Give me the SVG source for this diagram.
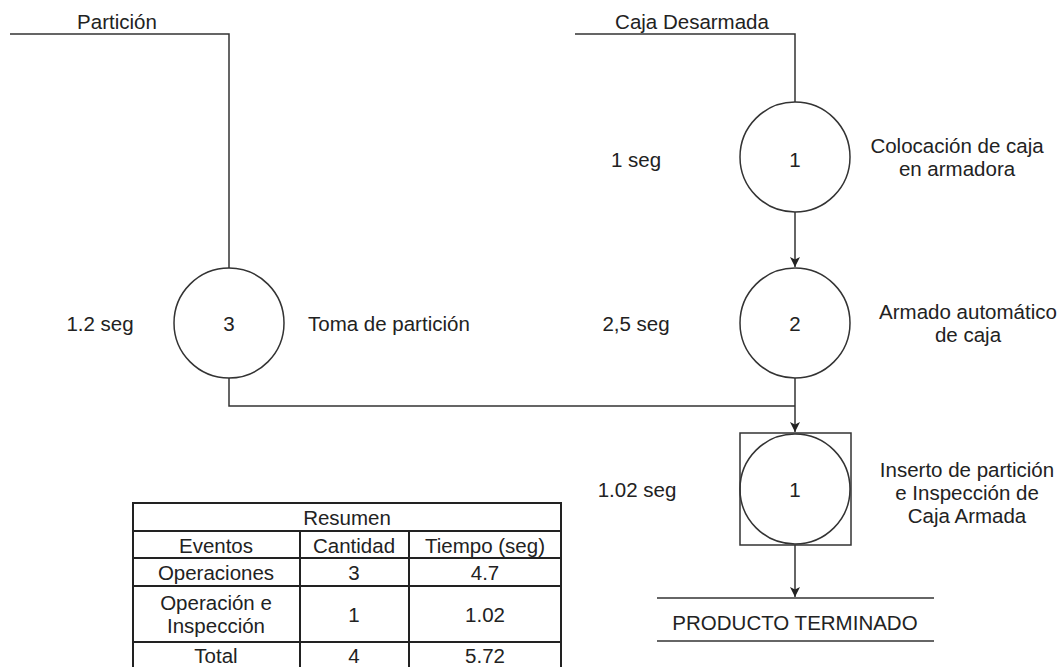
<svg xmlns="http://www.w3.org/2000/svg" width="1062" height="667" viewBox="0 0 1062 667">
<style>
text{font-family:"Liberation Sans",Arial,sans-serif;font-size:20.5px;fill:#222}
.c{text-anchor:middle}
.ln{fill:none;stroke:#333;stroke-width:1.5}
.nd{fill:#fff;stroke:#333;stroke-width:1.5}
.tb{fill:none;stroke:#222;stroke-width:2}
</style>
<defs>
<marker id="ah" markerWidth="12" markerHeight="12" refX="10" refY="6" orient="auto" markerUnits="userSpaceOnUse">
<path d="M0,1 L10,6 L0,11 L2.5,6 Z" fill="#222"/>
</marker>
</defs>
<rect width="1062" height="667" fill="#fff"/>
<g id="connectors">
<polyline class="ln" points="10,34 229,34 229,268"/>
<polyline class="ln" points="575,34 795,34 795,102"/>
<line class="ln" x1="795" y1="212" x2="795" y2="267" marker-end="url(#ah)"/>
<polyline class="ln" points="229,378 229,406 795,406"/>
<line class="ln" x1="795" y1="378" x2="795" y2="432" marker-end="url(#ah)"/>
<line class="ln" x1="795" y1="545" x2="795" y2="597" marker-end="url(#ah)"/>
</g>
<g id="label-particion"><text class="c" x="117" y="29">Partición</text></g>
<g id="label-caja"><text class="c" x="692" y="29">Caja Desarmada</text></g>
<g id="node-op1">
<circle class="nd" cx="795" cy="157" r="55"/>
<text class="c" x="795" y="167">1</text>
<text class="c" x="636" y="167">1 seg</text>
<text class="c" x="957" y="153">Colocación de caja</text>
<text class="c" x="957" y="176">en armadora</text>
</g>
<g id="node-op2">
<circle class="nd" cx="795" cy="323" r="55"/>
<text class="c" x="795" y="331">2</text>
<text class="c" x="636" y="331">2,5 seg</text>
<text class="c" x="968" y="319">Armado automático</text>
<text class="c" x="968" y="342">de caja</text>
</g>
<g id="node-op3">
<circle class="nd" cx="229" cy="323" r="55"/>
<text class="c" x="229" y="331">3</text>
<text class="c" x="100" y="331">1.2 seg</text>
<text x="308" y="331">Toma de partición</text>
</g>
<g id="node-opinsp">
<rect class="nd" x="740" y="433" width="111" height="112"/>
<circle class="ln" cx="795" cy="489" r="55"/>
<text class="c" x="795" y="497">1</text>
<text class="c" x="637" y="497">1.02 seg</text>
<text class="c" x="967" y="477">Inserto de partición</text>
<text class="c" x="967" y="500">e Inspección de</text>
<text class="c" x="967" y="523">Caja Armada</text>
</g>
<g id="node-producto">
<line class="ln" x1="657" y1="598" x2="934" y2="598"/>
<line class="ln" x1="657" y1="641" x2="934" y2="641"/>
<text class="c" x="795" y="630">PRODUCTO TERMINADO</text>
</g>
<g id="table-resumen">
<polyline class="tb" points="133,670 133,503 561,503 561,670"/>
<line class="tb" x1="133" y1="531" x2="561" y2="531"/>
<line class="tb" x1="133" y1="558" x2="561" y2="558"/>
<line class="tb" x1="133" y1="586" x2="561" y2="586"/>
<line class="tb" x1="133" y1="642" x2="561" y2="642"/>
<line class="tb" x1="300" y1="531" x2="300" y2="670"/>
<line class="tb" x1="409" y1="531" x2="409" y2="670"/>
<text class="c" x="347" y="525">Resumen</text>
<text class="c" x="216" y="553">Eventos</text>
<text class="c" x="354" y="553">Cantidad</text>
<text class="c" x="485" y="553">Tiempo (seg)</text>
<text class="c" x="216" y="580">Operaciones</text>
<text class="c" x="354" y="580">3</text>
<text class="c" x="485" y="580">4.7</text>
<text class="c" x="216" y="610">Operación e</text>
<text class="c" x="216" y="633">Inspección</text>
<text class="c" x="354" y="622">1</text>
<text class="c" x="485" y="622">1.02</text>
<text class="c" x="216" y="663">Total</text>
<text class="c" x="354" y="663">4</text>
<text class="c" x="485" y="663">5.72</text>
</g>
</svg>
